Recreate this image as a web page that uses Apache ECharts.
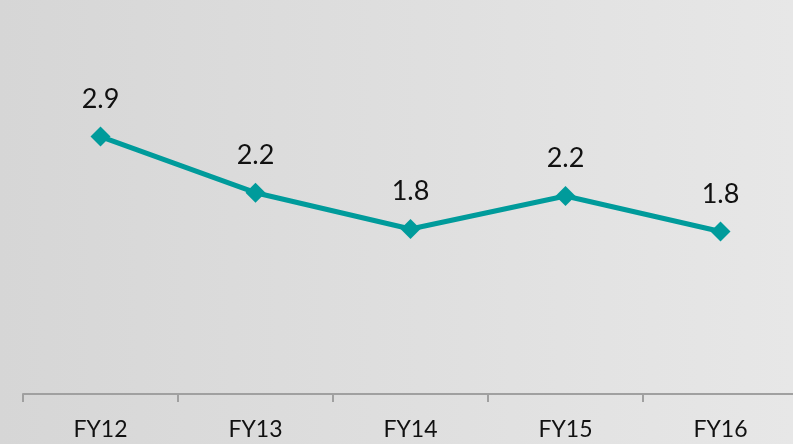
<!DOCTYPE html>
<html>
<head>
<meta charset="utf-8">
<script src="https://cdn.jsdelivr.net/npm/echarts@6/dist/echarts.min.js"></script>
<style>
html,body{margin:0;padding:0;}
#chart{width:793px;height:444px;background:linear-gradient(to right,#d6d6d6,#e7e7e7);}
</style>
</head>
<body>
<div id="chart"></div>
<script>
var categories = ['FY12', 'FY13', 'FY14', 'FY15', 'FY16'];
var values = [2.92, 2.24, 1.80, 2.20, 1.77];

var chart = echarts.init(document.getElementById('chart'));
chart.setOption({
  backgroundColor: 'transparent',
  animation: false,
  grid: { left: 23, right: -5, top: 64, bottom: 50, containLabel: false, outerBoundsMode: 'none' },
  xAxis: {
    type: 'category',
    data: categories,
    boundaryGap: true,
    axisLine: { show: true, onZero: false, lineStyle: { color: '#a0a0a0', width: 2 } },
    axisTick: { show: true, length: 8, lineStyle: { color: '#a0a0a0', width: 2 } },
    axisLabel: { color: '#111', fontSize: 23, fontFamily: 'Lato', margin: 24 }
  },
  yAxis: {
    type: 'value',
    min: -0.2,
    max: 3.8,
    show: false,
    splitLine: { show: false }
  },
  series: [{
    type: 'line',
    data: values,
    symbol: 'diamond',
    symbolSize: 20,
    lineStyle: { color: '#009b9b', width: 5 },
    itemStyle: { color: '#009b9b' },
    label: {
      show: true,
      position: 'top',
      distance: 14,
      fontSize: 27,
      fontFamily: 'Lato',
      color: '#111',
      formatter: function (p) { return p.value.toFixed(1); }
    }
  }]
});
</script>
</body>
</html>
